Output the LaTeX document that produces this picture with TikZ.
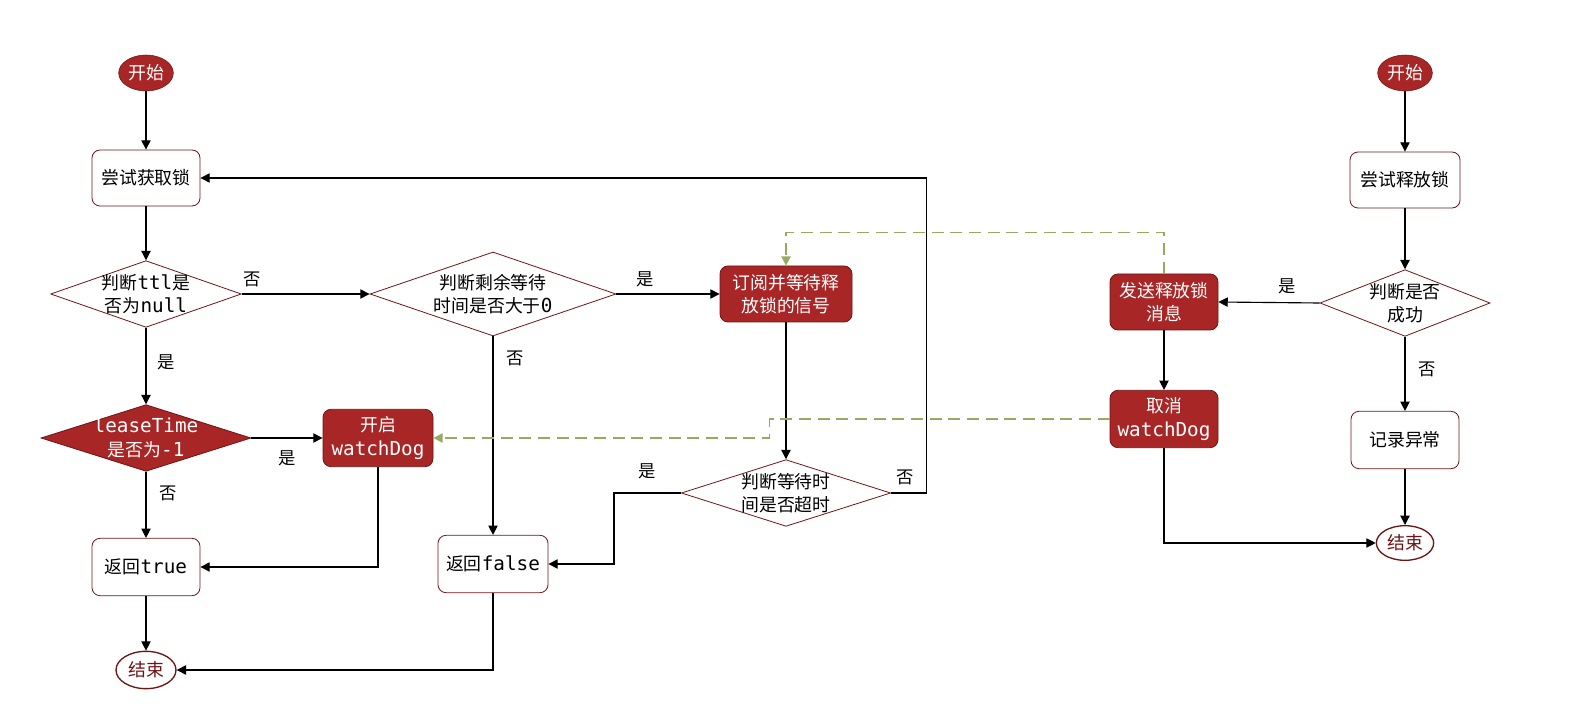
\documentclass[tikz,border=0pt]{standalone}
\usepackage{fontspec}
\setmainfont{Noto Sans CJK SC}
\newfontfamily\mono{DejaVu Sans Mono}[Scale=1.08]
\usetikzlibrary{shapes.geometric,arrows.meta}
\definecolor{lockred}{RGB}{168,38,38}
\definecolor{edgered}{RGB}{110,20,20}
\definecolor{dashgreen}{RGB}{152,170,96}
\begin{document}
\begin{tikzpicture}[x=0.75pt,y=-0.75pt,
  font=\fontsize{13.4pt}{17.5pt}\selectfont,
  box/.style={draw=edgered, line width=0.6pt, rounded corners=6pt, minimum width=81pt, minimum height=42pt, align=center, inner sep=2pt},
  redbox/.style={box, fill=lockred, text=white},
  dia/.style={diamond, draw=edgered, line width=0.6pt, inner sep=0pt},
  dtext/.style={align=center, inner sep=0pt},
  startnode/.style={ellipse, fill=lockred, draw=edgered, text=white, inner sep=0pt, minimum width=41pt, minimum height=27pt},
  endnode/.style={ellipse, fill=white, draw=edgered, line width=1pt, text=edgered, inner sep=0pt},
  arr/.style={draw=black, line width=0.85pt, -{Triangle[length=7pt,width=7pt]}},
  garr/.style={draw=dashgreen, line width=1.2pt, dash pattern=on 9pt off 5pt, -{Triangle[length=7pt,width=7pt]}},
  lbl/.style={font=\fontsize{13pt}{15pt}\selectfont, inner sep=2pt}
]
\useasboundingbox (0,0) rectangle (1571,716);

% left flow
\node[startnode] (s1) at (146,73) {开始};
\node[box] (try) at (146,178) {尝试获取锁};
\node[dia, minimum width=143pt, minimum height=50pt] (d1) at (146,294) {};
\node[dtext] (d1t) at (d1.center) {判断{\mono ttl}是\\否为{\mono null}};
\node[dia, fill=lockred, minimum width=157.5pt, minimum height=50pt] (d2) at (146,438) {};
\node[dtext, text=white] (d2t) at (d2.center) {{\mono leaseTime}\\是否为{\mono -1}};
\node[redbox, minimum width=82.5pt, minimum height=43pt] (wd) at (378,438) {开启\\{\mono watchDog}};
\node[box, minimum height=43pt] (rt) at (146,567) {返回{\mono true}};
\node[endnode, minimum width=45pt, minimum height=28pt] (e1) at (146,670) {结束};

% middle
\node[dia, minimum width=184.5pt, minimum height=63pt] (d3) at (493,294) {};
\node[dtext] (d3t) at (d3.center) {判断剩余等待\\时间是否大于{\mono 0}};
\node[redbox, minimum width=99pt, minimum height=42pt] (sub) at (786,294) {订阅并等待释\\放锁的信号};
\node[dia, minimum width=157pt, minimum height=50pt] (d4) at (786,493) {};
\node[dtext] (d4t) at (d4.center) {判断等待时\\间是否超时};
\node[box, minimum width=82.5pt, minimum height=43pt] (rf) at (493,564) {返回{\mono false}};

% right flow
\node[startnode] (s2) at (1405,73) {开始};
\node[box, minimum width=82.5pt] (tr) at (1405,180) {尝试释放锁};
\node[dia, minimum width=127.5pt, minimum height=50pt] (d5) at (1405,303) {};
\node[dtext] (d5t) at (d5.center) {判断是否\\成功};
\node[redbox, minimum height=42pt] (send) at (1164,302) {发送释放锁\\消息};
\node[redbox, minimum height=43pt] (cancel) at (1164,419) {取消\\{\mono watchDog}};
\node[box, minimum height=43pt] (log) at (1405,440) {记录异常};
\node[endnode, minimum width=43pt, minimum height=26pt] (e2) at (1405,543) {结束};

% connectors left
\draw[arr] (s1) -- (try);
\draw[arr] (try) -- (d1);
\draw[arr] (d1.south) -- node[lbl, pos=0.45, right=6pt] {是} (d2.north);
\draw[arr] (d1.east) -- node[lbl, pos=0.08, above=3pt] {否} (d3.west);
\draw[arr] (d2.east) -- node[lbl, midway, below=7pt] {是} (wd.west);
\draw[arr] (d2.south) -- node[lbl, pos=0.33, right=8pt] {否} (rt.north);
\draw[arr] (wd.south) |- (rt.east);
\draw[arr] (rt) -- (e1);

% connectors middle
\draw[arr] (d3.east) -- node[lbl, pos=0.28, above=3pt] {是} (sub.west);
\draw[arr] (d3.south) -- node[lbl, pos=0.11, right=8pt] {否} (rf.north);
\draw[arr] (sub) -- (d4);
\draw[arr] (d4.west) -- node[lbl, pos=0.5, above=8pt] {是} ++(-67,0) |- (rf.east);
\draw[arr] (d4.east) -- node[lbl, pos=0.4, above=4pt] {否} ++(35,0) |- (try.east);
\draw[arr] (rf.south) |- (e1.east);

% connectors right
\draw[arr] (s2) -- (tr);
\draw[arr] (tr) -- (d5);
\draw[arr] (d5.west) -- node[lbl, pos=0.32, above=4pt] {是} (send.east);
\draw[arr] (d5.south) -- node[lbl, pos=0.44, right=8pt] {否} (log.north);
\draw[arr] (send) -- (cancel);
\draw[arr] (cancel.south) |- (e2.west);
\draw[arr] (log) -- (e2);

% dashed signals
\draw[garr] (send.north) -- ++(0,-41) -| (sub.north);
\draw[garr] (cancel.west) -- ++(-340,0) |- (wd.east);
\end{tikzpicture}
\end{document}
